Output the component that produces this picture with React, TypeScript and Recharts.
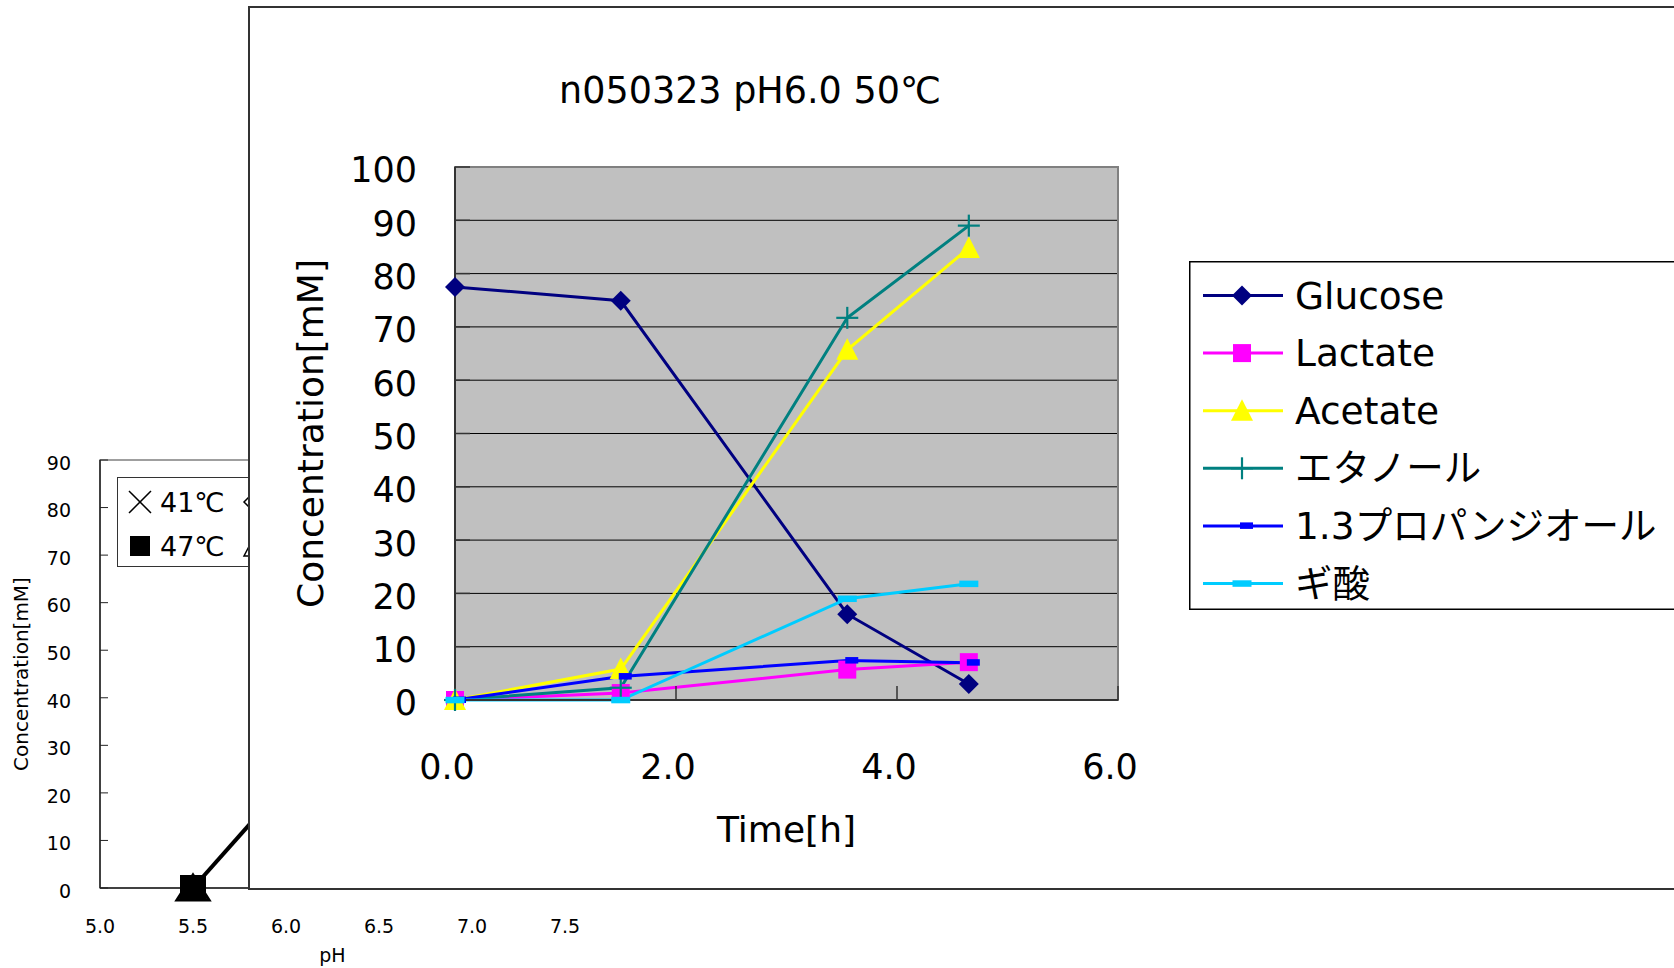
import React from "react";
import {
  CartesianGrid,
  Legend,
  Line,
  LineChart,
  ReferenceArea,
  XAxis,
  YAxis,
} from "recharts";

// front chart: n050323 pH6.0 50℃
const HOURS = [0, 1.5, 3.55, 4.65];
const GLUCOSE = [77.5, 74.9, 16.1, 3.0];
const LACTATE = [0, 1.3, 5.7, 7.1];
const ACETATE = [0, 5.8, 65.7, 84.8];
const ETHANOL = [0, 2.3, 71.7, 89.0];
const PROPANEDIOL = [0, 4.4, 7.4, 7.0];
const FORMATE = [0, 0, 19.0, 21.8];

const TIME_TICKS = [0, 2, 4, 6];
const CONC_TICKS = [0, 10, 20, 30, 40, 50, 60, 70, 80, 90, 100];

// back chart (mostly hidden behind the front one)
const PH = [5.5, 6.0];
const CONC_47 = [0, 22];
const CONC_50 = [0];
const PH_TICKS = [5.0, 5.5, 6.0, 6.5, 7.0, 7.5];
const BACK_TICKS = [0, 10, 20, 30, 40, 50, 60, 70, 80, 90];
const BACK_LEGEND = ["41℃", "44℃", "47℃", "50℃"];
const BACK_MARKERS = ["cross", "openDiamond", "square20", "openTriangle"];

const FONT = '"DejaVu Sans", "Noto Sans CJK JP", sans-serif';

const SERIES = [
  { key: "glucose", name: "Glucose", color: "#000080", marker: "diamond", values: GLUCOSE },
  { key: "lactate", name: "Lactate", color: "#FF00FF", marker: "square", values: LACTATE },
  { key: "acetate", name: "Acetate", color: "#FFFF00", marker: "triangle", values: ACETATE },
  { key: "ethanol", name: "エタノール", color: "#008080", marker: "plus", values: ETHANOL },
  { key: "propanediol", name: "1.3プロパンジオール", color: "#0000FF", marker: "dashSmall", values: PROPANEDIOL },
  { key: "formate", name: "ギ酸", color: "#00CCFF", marker: "dash", values: FORMATE },
];

const frontData = HOURS.map((t, i) => {
  const row: Record<string, number> = { t };
  SERIES.forEach((s) => (row[s.key] = s.values[i]));
  return row;
});

const backData = PH.map((ph, i) => ({
  ph,
  c47: CONC_47[i] ?? null,
  c50: CONC_50[i] ?? null,
}));

function Marker({ kind, cx, cy, color }: { kind: string; cx: number; cy: number; color: string }) {
  switch (kind) {
    case "diamond":
      return <polygon points={`${cx},${cy - 10} ${cx + 10},${cy} ${cx},${cy + 10} ${cx - 10},${cy}`} fill={color} />;
    case "square":
      return <rect x={cx - 9} y={cy - 9} width={18} height={18} fill={color} />;
    case "triangle":
      return <polygon points={`${cx},${cy - 11.5} ${cx + 11},${cy + 10} ${cx - 11},${cy + 10}`} fill={color} />;
    case "plus":
      return (
        <g stroke={color} strokeWidth={2.2}>
          <line x1={cx - 11} y1={cy} x2={cx + 11} y2={cy} />
          <line x1={cx} y1={cy - 11} x2={cx} y2={cy + 11} />
        </g>
      );
    case "dashSmall":
      return <rect x={cx - 2} y={cy - 3.5} width={13} height={6.5} fill={color} />;
    case "dash":
      return <rect x={cx - 9.5} y={cy - 3.2} width={19} height={6.5} fill={color} />;
    case "bigSquare":
      return <rect x={cx - 13} y={cy - 13} width={26} height={26} fill={color} />;
    case "square20":
      return <rect x={cx - 10} y={cy - 10} width={20} height={20} fill={color} />;
    case "cross":
      return (
        <g stroke={color} strokeWidth={1.5}>
          <line x1={cx - 11} y1={cy - 11} x2={cx + 11} y2={cy + 11} />
          <line x1={cx - 11} y1={cy + 11} x2={cx + 11} y2={cy - 11} />
        </g>
      );
    case "openDiamond":
      return (
        <polygon
          points={`${cx},${cy - 11} ${cx + 11},${cy} ${cx},${cy + 11} ${cx - 11},${cy}`}
          fill="none"
          stroke={color}
          strokeWidth={1.5}
        />
      );
    case "openTriangle":
      return (
        <polygon
          points={`${cx},${cy - 11} ${cx + 11},${cy + 10} ${cx - 11},${cy + 10}`}
          fill="none"
          stroke={color}
          strokeWidth={1.5}
        />
      );
    case "bigTriangle":
      return (
        <polygon
          points={`${cx},${cy - 13} ${cx + 16},${cy + 12} ${cx - 16},${cy + 12}`}
          fill="none"
          stroke={color}
          strokeWidth={3}
        />
      );
    default:
      return null;
  }
}

const dotFor = (kind: string, color: string) => (p: any) => {
  if (p.cx == null || p.cy == null || p.value == null) return <g key={p.index} />;
  return (
    <g key={p.index}>
      <Marker kind={kind} cx={p.cx} cy={p.cy} color={color} />
    </g>
  );
};

function FrontLegend() {
  return (
    <svg width={560} height={349} style={{ display: "block" }}>
      <rect x={0.75} y={0.75} width={620} height={347.5} fill="#fff" stroke="#000" strokeWidth={1.5} />
      {SERIES.map((s, i) => {
        const y = 34.5 + i * 57.6;
        return (
          <g key={s.key}>
            <line x1={14} y1={y} x2={94} y2={y} stroke={s.color} strokeWidth={3} />
            <Marker kind={s.marker} cx={53} cy={y} color={s.color} />
            <text x={106} y={y} dominantBaseline="central" fontSize={37.5} fill="#000" fontFamily={FONT}>
              {s.name}
            </text>
          </g>
        );
      })}
    </svg>
  );
}

function BackLegend() {
  return (
    <svg width={300} height={90} style={{ display: "block" }}>
      <rect x={0.5} y={0.5} width={299} height={89} fill="#fff" stroke="#333" strokeWidth={1} />
      {BACK_LEGEND.map((name, i) => {
        const col = i % 2;
        const row = Math.floor(i / 2);
        const cx = 23 + col * 115;
        const cy = 25 + row * 44;
        return (
          <g key={name}>
            <Marker kind={BACK_MARKERS[i]} cx={cx} cy={cy} color="#000" />
            <text x={cx + 20} y={cy} dominantBaseline="central" fontSize={27} fill="#000" fontFamily={FONT}>
              {name}
            </text>
          </g>
        );
      })}
    </svg>
  );
}

function BackChart() {
  return (
    <LineChart
      width={640}
      height={548}
      data={backData}
      margin={{ top: 40, right: 75, bottom: 30, left: 40 }}
      style={{ fontFamily: FONT }}
    >
      <XAxis
        type="number"
        dataKey="ph"
        domain={[5, 7.5]}
        ticks={PH_TICKS}
        interval={0}
        tickFormatter={(v: number) => v.toFixed(1)}
        tickLine={false}
        tickSize={0}
        tickMargin={32}
        height={50}
        axisLine={{ stroke: "#222", strokeWidth: 1.5 }}
        tick={{ fontSize: 19, fill: "#000" }}
        label={(p: any) => {
          const { x, y, width } = p.viewBox;
          return (
            <text x={x + width / 2} y={y + 67} textAnchor="middle" dominantBaseline="central" fontSize={19} fill="#000">
              pH
            </text>
          );
        }}
      />
      <YAxis
        type="number"
        domain={[0, 90]}
        ticks={BACK_TICKS}
        interval={0}
        width={60}
        tickSize={-8}
        tickMargin={37}
        tickLine={{ stroke: "#222" }}
        axisLine={{ stroke: "#222", strokeWidth: 1.5 }}
        tick={{ fontSize: 19, fill: "#000", dy: 3 }}
        label={(p: any) => {
          const { x, y, height } = p.viewBox;
          const cx = x - 19;
          const cy = y + height / 2;
          return (
            <text
              x={cx}
              y={cy}
              transform={`rotate(-90 ${cx} ${cy})`}
              textAnchor="middle"
              dominantBaseline="central"
              fontSize={20}
              fill="#000"
            >
              Concentration[mM]
            </text>
          );
        }}
      />
      <ReferenceArea x1={5} x2={7.5} y1={0} y2={90} fill="none" stroke="#808080" strokeWidth={1.5} />
      <Line
        dataKey="c50"
        stroke="#000"
        strokeWidth={3}
        isAnimationActive={false}
        dot={dotFor("bigTriangle", "#000")}
        legendType="none"
      />
      <Line
        dataKey="c47"
        stroke="#000"
        strokeWidth={4}
        isAnimationActive={false}
        dot={dotFor("bigSquare", "#000")}
        legendType="none"
      />
      <Legend
        layout="vertical"
        align="center"
        verticalAlign="middle"
        width={300}
        height={90}
        wrapperStyle={{ left: 117, top: 57 }}
        content={() => <BackLegend />}
      />
    </LineChart>
  );
}

function FrontChart() {
  return (
    <LineChart
      width={1496}
      height={880}
      data={frontData}
      margin={{ top: 159, right: 628, bottom: 88, left: 105 }}
      style={{ fontFamily: FONT }}
    >
      <CartesianGrid vertical={false} stroke="#000" strokeWidth={1} fill="#C0C0C0" fillOpacity={1} />
      <XAxis
        type="number"
        dataKey="t"
        domain={[0, 6]}
        ticks={TIME_TICKS}
        interval={0}
        tickFormatter={(v: number) => v.toFixed(1)}
        tickSize={-14}
        tickMargin={68}
        height={100}
        tickLine={{ stroke: "#333", strokeWidth: 1.5 }}
        axisLine={{ stroke: "#333", strokeWidth: 2 }}
        tick={{ fontSize: 35, fill: "#000", dx: -8 }}
        label={(p: any) => {
          const { x, y, width } = p.viewBox;
          return (
            <text x={x + width / 2} y={y + 129.5} textAnchor="middle" dominantBaseline="central" fontSize={36} fill="#000">
              Time[h]
            </text>
          );
        }}
      />
      <YAxis
        type="number"
        domain={[0, 100]}
        ticks={CONC_TICKS}
        interval={0}
        width={100}
        tickSize={-15}
        tickMargin={53}
        tickLine={{ stroke: "#333", strokeWidth: 1.5 }}
        axisLine={{ stroke: "#333", strokeWidth: 2 }}
        tick={{ fontSize: 35, fill: "#000", dy: 3 }}
        label={(p: any) => {
          const { x, y, height } = p.viewBox;
          const cx = x - 45;
          const cy = y + height / 2;
          return (
            <text
              x={cx}
              y={cy}
              transform={`rotate(-90 ${cx} ${cy})`}
              textAnchor="middle"
              dominantBaseline="central"
              fontSize={36}
              fill="#000"
            >
              Concentration[mM]
            </text>
          );
        }}
      />
      <ReferenceArea x1={0} x2={6} y1={0} y2={100} fill="none" stroke="#808080" strokeWidth={2} />
      {SERIES.map((s) => (
        <Line
          key={s.key}
          dataKey={s.key}
          name={s.name}
          stroke={s.color}
          strokeWidth={3}
          isAnimationActive={false}
          dot={dotFor(s.marker, s.color)}
          activeDot={false}
        />
      ))}
      <Legend
        layout="vertical"
        align="center"
        verticalAlign="middle"
        width={560}
        height={349}
        wrapperStyle={{ left: 939, top: 253 }}
        content={() => <FrontLegend />}
      />
    </LineChart>
  );
}

export default function App() {
  return (
    <div
      style={{
        position: "absolute",
        left: 0,
        top: 0,
        width: 1674,
        height: 968,
        overflow: "hidden",
        background: "#fff",
        fontFamily: FONT,
      }}
    >
      <div style={{ position: "absolute", left: 0, top: 420 }}>
        <BackChart />
      </div>
      <div
        style={{
          position: "absolute",
          left: 248,
          top: 6,
          width: 1500,
          height: 884,
          border: "2px solid #333",
          boxSizing: "border-box",
          background: "#fff",
        }}
      >
        <div
          style={{
            position: "absolute",
            left: 0,
            top: 62,
            width: 1000,
            textAlign: "center",
            fontSize: 36.5,
            lineHeight: "42px",
            color: "#000",
          }}
        >
          n050323 pH6.0 50℃
        </div>
        <FrontChart />
      </div>
    </div>
  );
}
